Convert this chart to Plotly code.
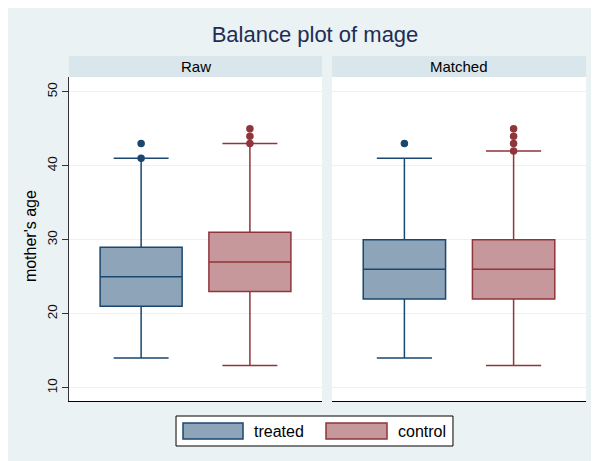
import plotly.graph_objects as go

# ---- data ----
panels = ["Raw", "Matched"]
groups = ["treated", "control"]

raw_q1 = [21, 23]
raw_median = [25, 27]
raw_q3 = [29, 31]
raw_lower = [14, 13]
raw_upper = [41, 43]

matched_q1 = [22, 22]
matched_median = [26, 26]
matched_q3 = [30, 30]
matched_lower = [14, 13]
matched_upper = [41, 42]

raw_outliers_treated = [41, 43]
raw_outliers_control = [43, 44, 45]
matched_outliers_treated = [43]
matched_outliers_control = [42, 43, 44, 45]

y_ticks = [10, 20, 30, 40, 50]

# ---- styles ----
FONT = "Liberation Sans, Arial, sans-serif"
fills = {"treated": "#8EA4B9", "control": "#C7989B"}
lines = {"treated": "#1A476F", "control": "#90353B"}
BG = "#EAF2F3"
STRIP = "#D9E6EB"

stats = {
    "Raw": (raw_q1, raw_median, raw_q3, raw_lower, raw_upper,
            [raw_outliers_treated, raw_outliers_control]),
    "Matched": (matched_q1, matched_median, matched_q3, matched_lower, matched_upper,
                [matched_outliers_treated, matched_outliers_control]),
}

fig = go.Figure()
for pi, panel in enumerate(panels):
    xa = "x" if pi == 0 else "x2"
    ya = "y" if pi == 0 else "y2"
    q1, med, q3, lo, hi, outs = stats[panel]
    for gi, g in enumerate(groups):
        fig.add_trace(go.Box(
            x=[gi], q1=[q1[gi]], median=[med[gi]], q3=[q3[gi]],
            lowerfence=[lo[gi]], upperfence=[hi[gi]],
            width=0.754, whiskerwidth=0.67,
            fillcolor=fills[g], line=dict(color=lines[g], width=1.5),
            boxpoints=False, name=g, showlegend=False,
            xaxis=xa, yaxis=ya, hoverinfo="skip",
        ))
        fig.add_trace(go.Scatter(
            x=[gi] * len(outs[gi]), y=outs[gi], mode="markers",
            marker=dict(color=lines[g], size=7.5), showlegend=False,
            xaxis=xa, yaxis=ya, hoverinfo="skip",
        ))

xcommon = dict(range=[-0.663, 1.663], showticklabels=False, showgrid=False,
               zeroline=False, showline=True, linecolor="#000000", linewidth=1,
               ticks="", fixedrange=True)
ycommon = dict(range=[8.2, 52], tickvals=y_ticks, showgrid=True,
               gridcolor=BG, gridwidth=1, zeroline=False)

W, H = 591, 453
fig.update_layout(
    width=W, height=H,
    margin=dict(l=61, r=13, t=69, b=60),
    paper_bgcolor=BG, plot_bgcolor="white",
    font=dict(family=FONT, color="#000000"),
    showlegend=False,
    xaxis=dict(domain=[0, 0.4894], **xcommon),
    xaxis2=dict(domain=[0.5087, 1], **xcommon),
    yaxis=dict(anchor="x", showline=True, linecolor="#333333", linewidth=1,
               ticks="outside", ticklen=6, tickcolor="#333333",
               tickangle=-90, tickfont=dict(size=13.5, color="#111111"),
               **ycommon),
    yaxis2=dict(anchor="x2", matches="y", showticklabels=False, showline=False,
                ticks="", **ycommon),
    title=dict(text="Balance plot of mage", xref="container", x=307 / W,
               xanchor="center",
               yref="container", y=1 - 26.5 / H, yanchor="middle",
               font=dict(size=22, color="#1E2D55", family=FONT)),
)

shapes = []
annotations = []
# panel strips
for pi, panel in enumerate(panels):
    xr = "x domain" if pi == 0 else "x2 domain"
    yr = "y domain" if pi == 0 else "y2 domain"
    shapes.append(dict(type="rect", xref=xr, yref=yr, x0=0, x1=1, y0=1.0, y1=1.0648,
                       fillcolor=STRIP, line=dict(width=0), layer="below"))
    annotations.append(dict(text=panel, xref=xr, yref=yr, x=0.5, y=1.0324,
                            xanchor="center", yanchor="middle", showarrow=False,
                            font=dict(size=15, color="#000000")))
# y axis title
annotations.append(dict(text="mother's age", xref="paper", yref="paper",
                        x=-0.0754, y=0.509, textangle=-90, showarrow=False,
                        xanchor="center", yanchor="middle",
                        font=dict(size=16, color="#000000")))
# legend
shapes.append(dict(type="rect", xref="paper", yref="paper", x0=0.2070, x1=0.7427,
                   y0=-0.1389, y1=-0.0463, fillcolor="white",
                   line=dict(color="#000000", width=1)))
leg_sym_x = [(0.2205, 0.3366), (0.4971, 0.6151)]
leg_txt_x = [0.3549, 0.6325]
for gi, g in enumerate(groups):
    x0, x1 = leg_sym_x[gi]
    shapes.append(dict(type="rect", xref="paper", yref="paper", x0=x0, x1=x1,
                       y0=-0.1173, y1=-0.0679, fillcolor=fills[g],
                       line=dict(color=lines[g], width=1.5)))
    annotations.append(dict(text=g, xref="paper", yref="paper", x=leg_txt_x[gi],
                            y=-0.0926, xanchor="left", yanchor="middle",
                            showarrow=False, font=dict(size=16, color="#000000")))

fig.update_layout(shapes=shapes, annotations=annotations)
fig.write_html("out.html")
